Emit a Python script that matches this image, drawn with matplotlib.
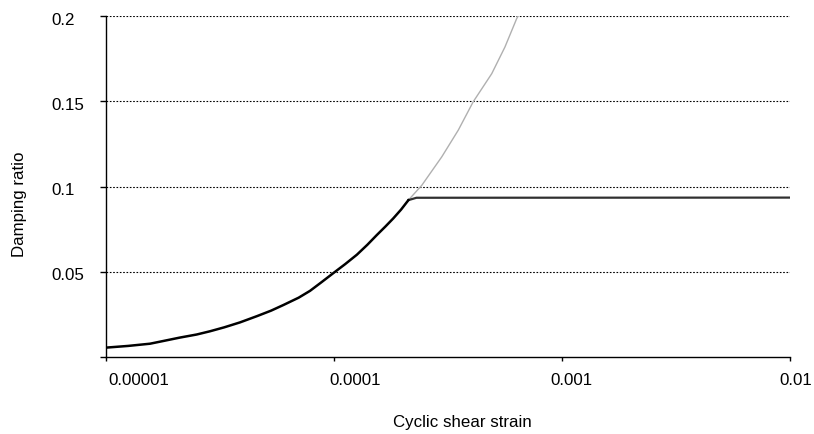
import matplotlib
matplotlib.use("Agg")
import matplotlib.pyplot as plt
from matplotlib.transforms import ScaledTranslation

plt.rcParams['font.family'] = ['Liberation Sans', 'DejaVu Sans']

# podaci ocitani sa slike
strain = [1e-5, 1.25e-5, 1.56e-5, 1.8e-5, 2.11e-5, 2.5e-5, 2.86e-5, 3.3e-5, 3.87e-5,
          4.6e-5, 5.3e-5, 6.0e-5, 7.0e-5, 7.85e-5, 8.8e-5, 1.0e-4, 1.12e-4, 1.26e-4,
          1.4e-4, 1.54e-4, 1.68e-4, 1.82e-4, 1.97e-4, 2.12e-4]
damping = [0.0055, 0.0065, 0.0078, 0.0095, 0.0114, 0.0132, 0.0151, 0.0174, 0.0203,
           0.024, 0.0272, 0.0305, 0.0348, 0.0388, 0.0438, 0.0495, 0.0545, 0.0600,
           0.0658, 0.0715, 0.0765, 0.0813, 0.0865, 0.0920]

# produzetak bez ogranicenja (siva)
strain_ext = [2.12e-4, 2.43e-4, 2.97e-4, 3.51e-4, 4.08e-4, 4.92e-4, 5.62e-4, 6.33e-4, 6.44e-4]
damping_ext = [0.0920, 0.1008, 0.1174, 0.1331, 0.1497, 0.1662, 0.1818, 0.1985, 0.2003]

# ograniceni dio (ravna linija)
strain_cap = [2.12e-4, 2.3e-4, 1e-2]
damping_cap = [0.0920, 0.0934, 0.0935]

xticks = [1e-5, 1e-4, 1e-3, 1e-2]
xlabels = ['0.00001', '0.0001', '0.001', '0.01']
xoff = [2, -5, -12, -11]   # pomak natpisa u pikselima
yticks = [0, 0.05, 0.1, 0.15, 0.2]
ylabels = ['', '0.05', '0.1', '0.15', '0.2']

fs = 12.2
fig = plt.figure(figsize=(8.14, 4.34), dpi=100)
ax = fig.add_axes([0.1302, 0.1774, 0.8403, 0.7857])

for yv in yticks[1:]:
    ax.axhline(yv, color='black', lw=0.8, ls=(0, (1.5, 1.5)), zorder=1)

ax.plot(strain_ext, damping_ext, color='#b0b0b0', lw=1.0, zorder=2)
ax.plot(strain_cap, damping_cap, color='#303030', lw=1.6, zorder=3)
ax.plot(strain, damping, color='black', lw=1.8, zorder=4, solid_joinstyle='round')

ax.set_xscale('log')
ax.set_xlim(1e-5, 1e-2)
ax.set_ylim(0, 0.2)
ax.set_xticks(xticks)
ax.set_xticklabels(xlabels)
ax.minorticks_off()
ax.set_yticks(yticks)
ax.set_yticklabels(ylabels)

ax.spines['top'].set_visible(False)
ax.spines['right'].set_visible(False)
ax.spines['left'].set_linewidth(1.0)
ax.spines['bottom'].set_linewidth(1.0)
ax.tick_params(axis='both', direction='out', width=1, labelsize=fs, colors='black')
ax.tick_params(axis='x', length=3, pad=8.4)
ax.tick_params(axis='y', length=4.3, pad=35.3)

for lab, dx in zip(ax.get_xticklabels(), xoff):
    lab.set_horizontalalignment('left')
    lab.set_transform(lab.get_transform() + ScaledTranslation(dx / 100, 0, fig.dpi_scale_trans))
for lab in ax.get_yticklabels():
    lab.set_horizontalalignment('left')
    lab.set_transform(lab.get_transform() + ScaledTranslation(0, -2.5 / 100, fig.dpi_scale_trans))

fig.text(462 / 814, 1 - 422 / 434, 'Cyclic shear strain', fontsize=fs, ha='center', va='center')
fig.text(20 / 814, 1 - 204 / 434, 'Damping ratio', fontsize=fs, ha='center', va='center', rotation=90)

fig.savefig('out.png', dpi=100)
